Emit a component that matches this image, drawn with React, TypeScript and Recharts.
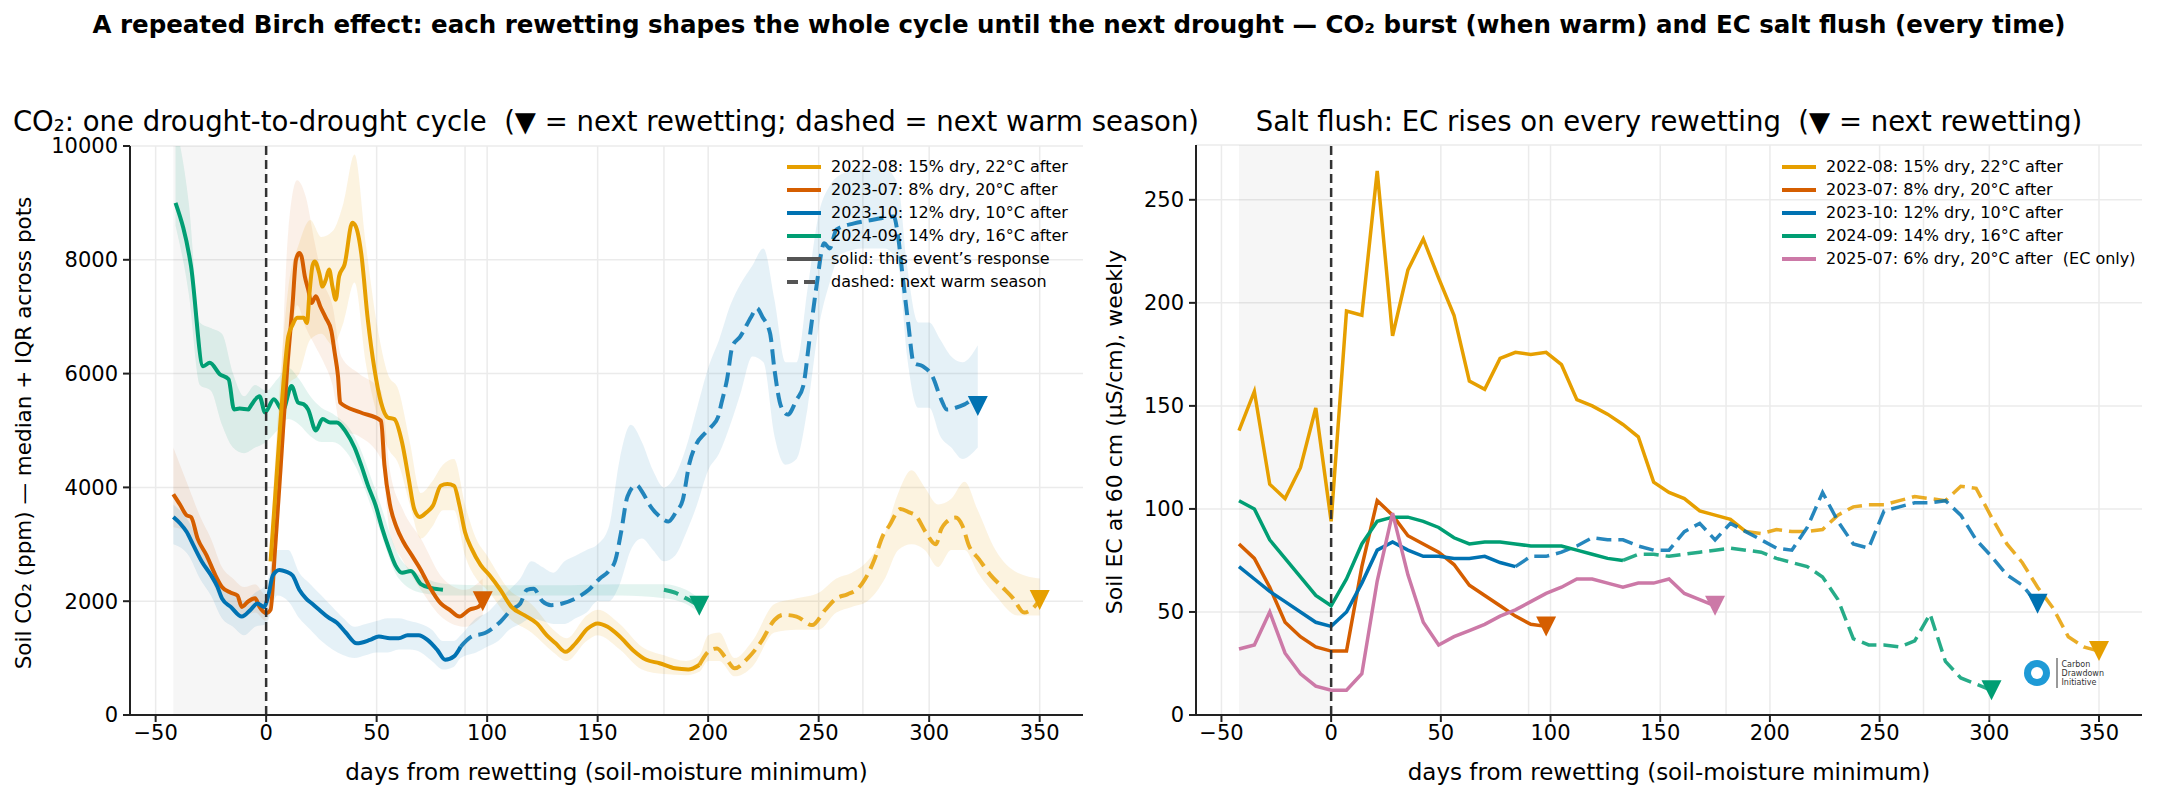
import React from "react";
import {
  ComposedChart,
  Line,
  Area,
  Scatter,
  XAxis,
  YAxis,
  CartesianGrid,
  ReferenceArea,
  ReferenceLine,
} from "recharts";

const FONT = "'DejaVu Sans', Verdana, sans-serif";

const YELLOW = "#E69F00";
const ORANGE = "#D55E00";
const BLUE = "#0072B2";
const GREEN = "#009E73";
const PINK = "#CC79A7";
const GRID = "#ebebeb";

// axes
const xDomain = [-61.6, 369.6];
const dayTicks = [-50, 0, 50, 100, 150, 200, 250, 300, 350];
const gridDays = [-50, 50, 90, 100, 150, 180, 200, 250, 270, 300, 350];
const co2Ticks = [0, 2000, 4000, 6000, 8000, 10000];
const ecTicks = [0, 50, 100, 150, 200, 250];
const dryStart = -42;

// ---------- CO2 (daily medians, sampled) ----------
const co2YellowDays = [2, 4, 6, 8, 10, 12, 14, 17, 18.5, 19.5, 21, 22, 24, 25.5, 27, 28.5, 30, 31.5, 33, 35.5, 39, 40.5, 43, 46, 49, 52, 55, 58, 61.5, 64.5, 67, 69.5, 72.5, 75.5, 79, 82, 85, 87.5, 90, 93, 97, 101, 106, 111, 117, 122.5, 127, 131, 135.5, 140, 145.5, 150, 154.5, 160, 166, 172, 178, 185, 191, 196];
const co2Yellow = [2700, 3800, 4900, 5900, 6650, 6860, 6980, 6980, 6890, 7360, 7900, 7970, 7770, 7530, 7650, 7830, 7530, 7300, 7710, 7920, 8650, 8590, 8120, 6950, 6080, 5490, 5230, 5200, 4790, 4150, 3620, 3480, 3560, 3680, 4030, 4060, 4030, 3680, 3210, 2920, 2640, 2460, 2200, 1900, 1750, 1610, 1400, 1260, 1110, 1260, 1520, 1610, 1550, 1380, 1140, 970, 910, 820, 800, 880];
const co2YellowNextDays = [196, 201, 204, 208, 212, 218, 224, 230, 234, 240, 247, 253, 258, 263, 268, 271, 275, 279, 282, 287, 291, 294, 298.5, 303, 305.5, 307.5, 312, 315, 318, 322.5, 328, 333, 338, 343, 347, 350];
const co2YellowNext = [880, 1140, 1170, 1000, 820, 1000, 1290, 1670, 1760, 1730, 1580, 1850, 2050, 2120, 2230, 2390, 2710, 3150, 3330, 3620, 3560, 3500, 3210, 3000, 3270, 3380, 3470, 3330, 2975, 2740, 2450, 2250, 2050, 1800, 1880, 2020];
const co2YellowBandDays = [2, 6, 10, 15, 20, 25, 30, 35, 40, 45, 50, 55, 60, 65, 70, 75, 80, 85, 90, 95, 100, 110, 120, 130, 136, 145, 150, 160, 170, 180, 190, 196, 200, 205, 212, 220, 230, 240, 250, 258, 265, 272, 280, 286, 292, 298, 304, 310, 316, 322, 330, 340, 350];
const co2YellowLo = [2300, 4200, 5800, 6000, 6600, 6700, 6500, 6900, 7600, 6200, 5300, 4700, 4400, 3700, 3100, 3300, 3600, 3600, 2800, 2400, 2200, 1700, 1450, 1100, 950, 1300, 1400, 1150, 800, 720, 700, 760, 950, 950, 680, 850, 1450, 1500, 1500, 1800, 1900, 2000, 2400, 2900, 3000, 2900, 2600, 2900, 2900, 2500, 2100, 1750, 1750];
const co2YellowHi = [3000, 5700, 7500, 8300, 8700, 8400, 8500, 9000, 9850, 8300, 6900, 6000, 5700, 4800, 3900, 4100, 4400, 4500, 3700, 3100, 2800, 2200, 1950, 1500, 1350, 1750, 1850, 1600, 1200, 1050, 950, 1050, 1400, 1450, 1000, 1300, 1950, 2050, 2150, 2400, 2500, 2700, 3200, 3900, 4300, 4000, 3700, 3800, 4100, 3600, 2900, 2500, 2400];

const co2OrangeDays = [-42, -39, -36, -34, -31, -27, -23, -20, -16, -13, -11, -8, -5, -3, 0, 2, 4, 6.5, 9.5, 12, 13.5, 15, 16, 17.5, 19, 20.5, 22.5, 24.5, 27, 29.5, 31, 32.5, 33.5, 42.5, 52, 53.5, 56, 59, 62, 66, 70, 74, 79, 83, 87.5, 92, 96, 98];
const co2Orange = [3880, 3700, 3510, 3480, 3100, 2810, 2460, 2250, 2150, 2100, 1900, 2000, 2050, 1900, 1790, 1850, 2900, 4320, 6080, 7240, 8000, 8120, 8060, 7710, 7480, 7240, 7360, 7180, 6980, 6750, 6370, 5960, 5490, 5320, 5170, 4400, 3700, 3300, 3050, 2800, 2550, 2250, 1960, 1850, 1730, 1850, 1900, 2000];
const co2OrangeBandDays = [-42, -35, -30, -25, -20, -15, -10, -5, 0, 5, 10, 14, 18, 22, 26, 30, 34, 42, 52, 56, 62, 70, 80, 90, 98];
const co2OrangeLo = [3300, 3200, 2800, 2400, 2000, 1900, 1750, 1800, 1650, 3000, 5800, 7200, 6800, 6500, 6200, 5800, 5000, 4900, 4500, 3200, 2700, 2200, 1700, 1550, 1750];
const co2OrangeHi = [4700, 4000, 3500, 3100, 2600, 2400, 2250, 2300, 2100, 4200, 8500, 9400, 9100, 8300, 7600, 7200, 6300, 6000, 5700, 4300, 3600, 3100, 2400, 2200, 2400];

const co2BlueDays = [-42, -39, -36, -33, -29, -25, -22, -20, -16, -11, -7, -4, -1, 1, 3, 6, 9, 12, 15, 18, 21, 24, 28, 32, 36, 41, 47, 51, 56, 60, 64, 69, 73, 77.5, 81, 85, 88];
const co2Blue = [3480, 3370, 3220, 2990, 2690, 2460, 2250, 2050, 1900, 1730, 1850, 1960, 1900, 2100, 2450, 2550, 2520, 2450, 2200, 2050, 1950, 1850, 1720, 1620, 1450, 1260, 1320, 1380, 1350, 1350, 1400, 1400, 1320, 1140, 970, 1030, 1200];
const co2BlueNextDays = [88, 93, 99, 106, 111, 115, 118, 121, 125, 129, 134, 140, 146, 151, 155, 158, 160.5, 163.5, 167.5, 170.5, 173.5, 178, 182, 185.5, 188.5, 191.5, 194.5, 198.5, 201.5, 204.5, 206, 208.5, 211, 214.5, 219.5, 222, 224.5, 228, 230, 233, 236, 240, 243, 246, 249, 252.5, 255, 258, 266, 274, 284, 285.5, 288, 290.5, 293, 297, 301.5, 305.5, 308, 312, 316, 320, 322];
const co2BlueNext = [1200, 1380, 1440, 1640, 1850, 1960, 2200, 2220, 2000, 1930, 1960, 2050, 2200, 2400, 2530, 2720, 3190, 3840, 4040, 3900, 3690, 3490, 3400, 3570, 3780, 4420, 4750, 4950, 5070, 5240, 5480, 5890, 6480, 6650, 7000, 7150, 7000, 6710, 6070, 5420, 5280, 5540, 5780, 6650, 7530, 8290, 8200, 8530, 8640, 8700, 8760, 8530, 7710, 6890, 6190, 6130, 5950, 5540, 5370, 5400, 5460, 5540, 5430];
const co2BlueBandDays = [-42, -35, -30, -25, -20, -15, -10, -5, 0, 5, 10, 15, 20, 25, 30, 35, 40, 45, 50, 55, 60, 65, 70, 75, 80, 85, 88, 95, 100, 105, 110, 115, 120, 125, 130, 135, 140, 145, 150, 155, 160, 165, 170, 175, 180, 185, 190, 195, 200, 205, 210, 215, 220, 225, 230, 235, 240, 245, 250, 255, 260, 270, 280, 286, 290, 295, 300, 305, 310, 315, 322];
const co2BlueLo = [3000, 2800, 2400, 2100, 1700, 1550, 1400, 1550, 1600, 2100, 2000, 1700, 1500, 1300, 1150, 1050, 1000, 1050, 1100, 1100, 1150, 1150, 1100, 950, 800, 850, 1000, 1100, 1200, 1300, 1500, 1600, 1700, 1650, 1600, 1600, 1700, 1800, 2000, 2000, 2300, 2900, 3100, 2900, 2700, 2800, 3200, 3700, 4300, 4600, 5100, 5700, 6300, 6200, 4900, 4400, 4500, 5400, 6800, 7600, 8100, 8200, 8200, 7900, 6300, 5400, 5400, 4900, 4700, 4500, 4700];
const co2BlueHi = [3700, 3400, 3000, 2700, 2300, 2150, 2000, 2150, 2300, 2900, 2900, 2500, 2300, 2100, 1900, 1700, 1550, 1600, 1650, 1700, 1700, 1650, 1600, 1500, 1300, 1300, 1400, 1700, 1800, 2000, 2200, 2400, 2700, 2600, 2500, 2700, 2800, 2900, 3000, 3300, 4500, 5100, 4800, 4300, 4000, 4200, 4700, 5400, 6100, 6600, 7200, 7600, 7900, 8200, 7300, 6200, 6200, 7500, 8800, 9300, 9500, 9600, 9600, 9300, 7900, 6900, 6900, 6600, 6300, 6200, 6500];

const co2GreenDays = [-41, -34, -28.5, -25.5, -21, -17, -14.5, -12, -8, -7, -3, -0.5, 3.5, 7.5, 11.5, 14.5, 17, 19, 22.5, 25.5, 29, 32, 36, 40, 43, 46, 49.5, 52.5, 55.5, 58.5, 61.5, 65.5, 70, 75, 80];
const co2Green = [9000, 7890, 6130, 6190, 5990, 5900, 5370, 5385, 5370, 5430, 5600, 5320, 5550, 5350, 5780, 5490, 5460, 5370, 5000, 5200, 5140, 5140, 4980, 4700, 4390, 4040, 3690, 3280, 2930, 2630, 2500, 2530, 2300, 2230, 2200];
const co2GreenNextDays = [180, 185, 190, 196];
const co2GreenNext = [2200, 2150, 2050, 1920];
const co2GreenBandDays = [-41, -35, -30, -25, -20, -15, -10, -5, 0, 5, 10, 15, 20, 25, 30, 40, 50, 60, 70, 82, 100, 130, 160, 180, 190, 196];
const co2GreenLo = [8600, 7400, 5800, 5700, 5100, 4700, 4600, 4700, 4800, 5000, 5200, 5100, 4900, 4800, 4800, 4400, 3400, 2400, 2150, 2100, 2100, 2100, 2100, 2050, 1950, 1800];
const co2GreenHi = [10400, 9000, 6900, 6800, 6700, 6000, 5600, 5800, 5700, 5900, 6100, 5900, 5600, 5400, 5300, 4900, 3900, 2800, 2450, 2300, 2280, 2280, 2300, 2300, 2200, 2050];

// ---------- EC (weekly) ----------
const ecDays = [-42, -35, -28, -21, -14, -7, 0, 7, 14, 21, 28, 35, 42, 49, 56, 63, 70, 77, 84, 91, 98, 105, 112, 119, 126, 133, 140, 147, 154, 161, 168, 175, 182, 189, 196, 203, 210, 217, 224, 231, 238, 245, 252, 259, 266, 273, 280, 287, 294, 301, 308, 315, 322, 329, 336, 343, 350];
const ecYellow = [138, 157, 112, 105, 120, 149, 94, 196, 194, 264, 184, 216, 231, 212, 194, 162, 158, 173, 176, 175, 176, 170, 153, 150, 146, 141, 135, 113, 108, 105, 99, 97, 95, 89, 88, 90, 89, 89, 90, 97, 101, 102, 102, 104, 106, 105, 104, 111, 110, 96, 83, 74, 62, 52, 38, 33, 31];
const ecYellowSplit = 189;
const ecOrange = [83, 76, 62, 45, 38, 33, 31, 31, 72, 104, 97, 87, 83, 79, 73, 63, 58, 53, 48, 44, 43];
const ecBlue = [72, 66, 60, 55, 50, 45, 43, 50, 64, 80, 84, 80, 77, 77, 76, 76, 77, 74, 72, 77, 77, 79, 82, 86, 85, 85, 82, 80, 80, 89, 93, 85, 93, 89, 85, 81, 80, 91, 108, 94, 83, 81, 99, 101, 103, 103, 104, 97, 85, 77, 68, 63, 54];
const ecBlueSplit = 84;
const ecGreen = [104, 100, 85, 76, 67, 58, 53, 66, 83, 94, 96, 96, 94, 91, 86, 83, 84, 84, 83, 82, 82, 82, 80, 78, 76, 75, 78, 78, 77, 78, 79, 80, 81, 80, 79, 76, 74, 72, 67, 56, 37, 34, 34, 33, 36, 49, 26, 18, 15, 12];
const ecGreenSplit = 133;
const ecPink = [32, 34, 50, 30, 20, 14, 12, 12, 20, 65, 98, 68, 45, 34, 38, 41, 44, 48, 51, 55, 59, 62, 66, 66, 64, 62, 64, 64, 66, 59, 56, 53];

const co2Legend = [
  { label: "2022-08: 15% dry, 22°C after", color: YELLOW },
  { label: "2023-07: 8% dry, 20°C after", color: ORANGE },
  { label: "2023-10: 12% dry, 10°C after", color: BLUE },
  { label: "2024-09: 14% dry, 16°C after", color: GREEN },
  { label: "solid: this event’s response", color: "#555" },
  { label: "dashed: next warm season", color: "#555", dashed: true },
];
const ecLegend = [
  { label: "2022-08: 15% dry, 22°C after", color: YELLOW },
  { label: "2023-07: 8% dry, 20°C after", color: ORANGE },
  { label: "2023-10: 12% dry, 10°C after", color: BLUE },
  { label: "2024-09: 14% dry, 16°C after", color: GREEN },
  { label: "2025-07: 6% dry, 20°C after  (EC only)", color: PINK },
];

const pts = (days: number[], vals: number[]) => vals.map((v, i) => ({ day: days[i], v }));
const band = (days: number[], lo: number[], hi: number[]) =>
  days.map((d, i) => ({ day: d, r: [lo[i], hi[i]] }));
const lastPt = (days: number[], vals: number[]) => [{ day: days[vals.length - 1], v: vals[vals.length - 1] }];
const before = (days: number[], vals: number[], split: number) => pts(days, vals).filter((p) => p.day <= split);
const after = (days: number[], vals: number[], split: number) => pts(days, vals).filter((p) => p.day >= split);

const fmtDay = (v: number) => (v < 0 ? `\u2212${Math.abs(v)}` : `${v}`);
const tickStyle = { fontSize: 21, fill: "#000", fontFamily: FONT };
const axisStroke = { stroke: "#222", strokeWidth: 2 };

const vGrid = (props: any) => {
  const sc = props?.xAxis?.scale;
  if (typeof sc === "function") return gridDays.map((d) => sc(d));
  const o = props?.offset;
  if (!o) return [];
  return gridDays.map((d) => o.left + ((d - xDomain[0]) / (xDomain[1] - xDomain[0])) * o.width);
};

const tri = (color: string) => (props: any) => {
  const { cx, cy } = props;
  if (cx == null || cy == null) return <g />;
  return <path d={`M${cx - 10},${cy - 10}L${cx + 10},${cy - 10}L${cx},${cy + 10}Z`} fill={color} />;
};

const solid = (data: any[], color: string, w: number, type: any) => (
  <Line data={data} dataKey="v" stroke={color} strokeWidth={w} dot={false} type={type}
    isAnimationActive={false} activeDot={false} />
);
const dashed = (data: any[], color: string, w: number, type: any) => (
  <Line data={data} dataKey="v" stroke={color} strokeOpacity={0.85} strokeWidth={w} strokeDasharray="15 7"
    dot={false} type={type} isAnimationActive={false} activeDot={false} />
);
const shade = (data: any[], color: string, op: number) => (
  <Area data={data} dataKey="r" stroke="none" fill={color} fillOpacity={op} type="monotoneX"
    isAnimationActive={false} activeDot={false} />
);
const marker = (data: any[], color: string) => (
  <Scatter data={data} dataKey="v" shape={tri(color)} isAnimationActive={false} />
);

function Co2Panel() {
  return (
    <ComposedChart width={1100} height={801} margin={{ top: 146, right: 17, bottom: 0, left: 0 }}
      style={{ fontFamily: FONT }}>
      <CartesianGrid stroke={GRID} strokeWidth={1.5} verticalCoordinatesGenerator={vGrid} />
      <ReferenceArea x1={dryStart} x2={0} fill="#000" fillOpacity={0.035} stroke="none" />
      <XAxis type="number" dataKey="day" domain={xDomain} ticks={dayTicks} tickFormatter={fmtDay}
        allowDataOverflow height={86} tick={tickStyle} axisLine={axisStroke} tickLine={axisStroke}
        tickSize={7} tickMargin={3} />
      <YAxis type="number" domain={[0, 10000]} ticks={co2Ticks} allowDataOverflow width={130}
        tick={tickStyle} axisLine={axisStroke} tickLine={axisStroke} tickSize={7} tickMargin={5} />
      {shade(band(co2GreenBandDays, co2GreenLo, co2GreenHi), GREEN, 0.11)}
      {shade(band(co2OrangeBandDays, co2OrangeLo, co2OrangeHi), ORANGE, 0.09)}
      {shade(band(co2YellowBandDays, co2YellowLo, co2YellowHi), YELLOW, 0.12)}
      {shade(band(co2BlueBandDays, co2BlueLo, co2BlueHi), BLUE, 0.1)}
      {solid(pts(co2GreenDays, co2Green), GREEN, 4, "monotoneX")}
      {dashed(pts(co2GreenNextDays, co2GreenNext), GREEN, 4, "monotoneX")}
      {solid(pts(co2OrangeDays, co2Orange), ORANGE, 4, "monotoneX")}
      {solid(pts(co2BlueDays, co2Blue), BLUE, 4, "monotoneX")}
      {dashed(pts(co2BlueNextDays, co2BlueNext), BLUE, 4, "monotoneX")}
      {solid(pts(co2YellowDays, co2Yellow), YELLOW, 4, "monotoneX")}
      {dashed(pts(co2YellowNextDays, co2YellowNext), YELLOW, 4, "monotoneX")}
      <ReferenceLine x={0} stroke="#333" strokeWidth={2.5} strokeDasharray="9 5" />
      {marker(lastPt(co2YellowNextDays, co2YellowNext), YELLOW)}
      {marker(lastPt(co2OrangeDays, co2Orange), ORANGE)}
      {marker(lastPt(co2BlueNextDays, co2BlueNext), BLUE)}
      {marker(lastPt(co2GreenNextDays, co2GreenNext), GREEN)}
    </ComposedChart>
  );
}

function EcPanel() {
  return (
    <ComposedChart width={1058} height={801} margin={{ top: 145, right: 16, bottom: 0, left: 0 }}
      style={{ fontFamily: FONT }}>
      <CartesianGrid stroke={GRID} strokeWidth={1.5} verticalCoordinatesGenerator={vGrid} />
      <ReferenceArea x1={dryStart} x2={0} fill="#000" fillOpacity={0.035} stroke="none" />
      <XAxis type="number" dataKey="day" domain={xDomain} ticks={dayTicks} tickFormatter={fmtDay}
        allowDataOverflow height={86} tick={tickStyle} axisLine={axisStroke} tickLine={axisStroke}
        tickSize={7} tickMargin={3} />
      <YAxis type="number" domain={[0, 276.6]} ticks={ecTicks} allowDataOverflow width={96}
        tick={tickStyle} axisLine={axisStroke} tickLine={axisStroke} tickSize={7} tickMargin={5} />
      {solid(before(ecDays, ecYellow, ecYellowSplit), YELLOW, 3.5, "linear")}
      {dashed(after(ecDays, ecYellow, ecYellowSplit), YELLOW, 3.5, "linear")}
      {solid(pts(ecDays, ecOrange), ORANGE, 3.5, "linear")}
      {solid(before(ecDays, ecBlue, ecBlueSplit), BLUE, 3.5, "linear")}
      {dashed(after(ecDays, ecBlue, ecBlueSplit), BLUE, 3.5, "linear")}
      {solid(before(ecDays, ecGreen, ecGreenSplit), GREEN, 3.5, "linear")}
      {dashed(after(ecDays, ecGreen, ecGreenSplit), GREEN, 3.5, "linear")}
      {solid(pts(ecDays, ecPink), PINK, 3.5, "linear")}
      <ReferenceLine x={0} stroke="#333" strokeWidth={2.5} strokeDasharray="9 5" />
      {marker(lastPt(ecDays, ecYellow), YELLOW)}
      {marker(lastPt(ecDays, ecOrange), ORANGE)}
      {marker(lastPt(ecDays, ecBlue), BLUE)}
      {marker(lastPt(ecDays, ecGreen), GREEN)}
      {marker(lastPt(ecDays, ecPink), PINK)}
    </ComposedChart>
  );
}

function LegendBox({ left, top, items }: { left: number; top: number; items: any[] }) {
  return (
    <div style={{ position: "absolute", left, top, fontSize: 16, lineHeight: "23px" }}>
      {items.map((it) => (
        <div key={it.label} style={{ display: "flex", alignItems: "center", height: 23, whiteSpace: "pre" }}>
          <svg width={34} height={8} style={{ marginRight: 10 }}>
            <line x1={0} y1={4} x2={34} y2={4} stroke={it.color} strokeWidth={4}
              strokeDasharray={it.dashed ? "11 6" : undefined} />
          </svg>
          <span>{it.label}</span>
        </div>
      ))}
    </div>
  );
}

const abs = (s: React.CSSProperties): React.CSSProperties => ({ position: "absolute", whiteSpace: "pre", ...s });

export default function App() {
  return (
    <div style={{ position: "absolute", left: 0, top: 0, width: 2158, height: 801, background: "#fff",
      fontFamily: FONT, color: "#000", overflow: "hidden" }}>
      <div style={abs({ left: 0, width: 2158, top: 10, textAlign: "center", fontSize: 24.5, fontWeight: "bold" })}>
        A repeated Birch effect: each rewetting shapes the whole cycle until the next drought — CO₂ burst (when warm) and EC salt flush (every time)
      </div>
      <div style={abs({ left: 0, top: 0 })}><Co2Panel /></div>
      <div style={abs({ left: 1100, top: 0 })}><EcPanel /></div>

      <div style={abs({ left: 6, width: 1200, top: 107, height: 28, lineHeight: "28px", textAlign: "center", fontSize: 27.5 })}>
        CO₂: one drought-to-drought cycle  (▼ = next rewetting; dashed = next warm season)
      </div>
      <div style={abs({ left: 1196, width: 946, top: 107, height: 28, lineHeight: "28px", textAlign: "center", fontSize: 27.5 })}>
        Salt flush: EC rises on every rewetting  (▼ = next rewetting)
      </div>

      <div style={abs({ left: 130, width: 953, top: 759, textAlign: "center", fontSize: 23 })}>
        days from rewetting (soil-moisture minimum)
      </div>
      <div style={abs({ left: 1196, width: 946, top: 759, textAlign: "center", fontSize: 23 })}>
        days from rewetting (soil-moisture minimum)
      </div>
      <div style={abs({ left: 25 - 350, width: 700, top: 433 - 14, height: 28, textAlign: "center", fontSize: 21.5,
        transform: "rotate(-90deg)" })}>
        Soil CO₂ (ppm) — median + IQR across pots
      </div>
      <div style={abs({ left: 1116 - 350, width: 700, top: 432 - 14, height: 28, textAlign: "center", fontSize: 22,
        transform: "rotate(-90deg)" })}>
        Soil EC at 60 cm (µS/cm), weekly
      </div>

      <LegendBox left={787} top={155} items={co2Legend} />
      <LegendBox left={1782} top={155} items={ecLegend} />

      <div style={abs({ left: 2022, top: 658, display: "flex", alignItems: "center" })}>
        <svg width={30} height={30}>
          <circle cx={15} cy={15} r={13} fill="#1e9ad6" />
          <circle cx={15} cy={15} r={6} fill="#fff" />
        </svg>
        <div style={{ width: 1.5, height: 30, background: "#999", margin: "0 4px" }} />
        <div style={{ fontSize: 8, lineHeight: "9px", color: "#333" }}>
          Carbon<br />Drawdown<br />Initiative
        </div>
      </div>
    </div>
  );
}
